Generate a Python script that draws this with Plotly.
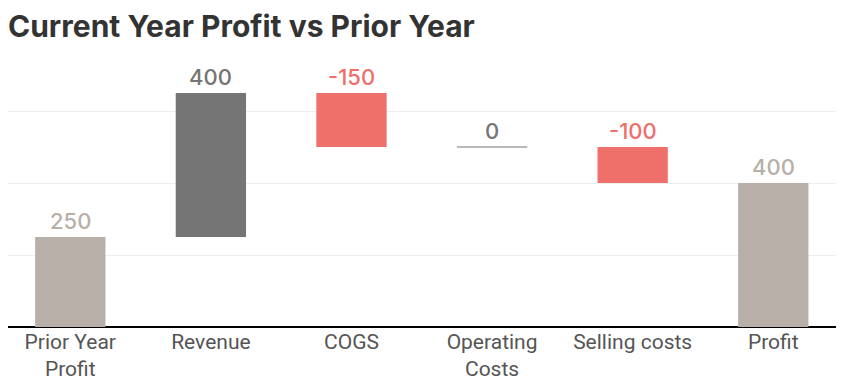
import plotly.graph_objects as go

categories = ["Prior Year Profit", "Revenue", "COGS", "Operating Costs", "Selling costs", "Profit"]
tick_labels = ["Prior Year<br>Profit", "Revenue", "COGS", "Operating<br>Costs", "Selling costs", "Profit"]
values = [250, 400, -150, 0, -100, 400]
kinds = ["total", "relative", "relative", "relative", "relative", "total"]

TOTAL_C = "#B8AFA9"
INC_C = "#757575"
DEC_C = "#EF6F6A"

bases, heights, colors, tops, label_colors, line_w = [], [], [], [], [], []
running = 0
for v, k in zip(values, kinds):
    if k == "total":
        bases.append(0)
        heights.append(v)
        colors.append(TOTAL_C)
        tops.append(v)
        running = v
        label_colors.append(TOTAL_C)
        line_w.append(0)
    else:
        lo = min(running, running + v)
        hi = max(running, running + v)
        bases.append(lo)
        heights.append(hi - lo)
        c = INC_C if v >= 0 else DEC_C
        colors.append(c)
        tops.append(hi)
        label_colors.append(c)
        line_w.append(1.2 if v == 0 else 0)
        running += v

fig = go.Figure()
fig.add_trace(go.Bar(
    x=categories, y=heights, base=bases,
    marker=dict(color=colors, line=dict(color=INC_C, width=line_w)),
    width=0.5, hoverinfo="skip", cliponaxis=False,
))

for cat, top, v, col in zip(categories, tops, values, label_colors):
    fig.add_annotation(
        x=cat, y=top, xref="x", yref="y", text=str(v), showarrow=False,
        yanchor="bottom", yshift=1,
        font=dict(family="Inter", size=22, color=col, weight=500),
    )

fig.update_layout(
    width=844, height=384,
    margin=dict(l=0, r=0, t=67, b=65, autoexpand=False),
    paper_bgcolor="white", plot_bgcolor="white",
    showlegend=False,
    title=dict(text="<b>Current Year Profit vs Prior Year</b>", x=0, xanchor="left",
               xref="container", y=0.978, yanchor="top", yref="container",
               font=dict(family="Inter", size=30, color="#333333")),
    xaxis=dict(tickmode="array", tickvals=categories, ticktext=tick_labels,
               tickfont=dict(family="Roboto", size=21, color="#555555"),
               range=[-0.443, 5.56],
               showgrid=False, showline=False, ticks=""),
    yaxis=dict(range=[0, 700], tickvals=[0, 200, 400, 600], showticklabels=False,
               showgrid=True, gridcolor="#EEEEEE", gridwidth=1,
               zeroline=True, zerolinecolor="#000000", zerolinewidth=1.5),
)
fig.write_html("out.html")
